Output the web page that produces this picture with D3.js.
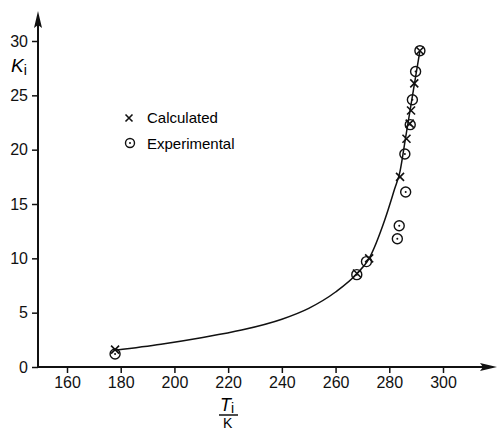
<!DOCTYPE html>
<html>
<head>
<meta charset="utf-8">
<script src="https://cdn.jsdelivr.net/npm/d3@7"></script>
<style>
  body { margin: 0; background: #fff; }
  svg { display: block; font-family: "Liberation Sans", Arial, sans-serif; }
  .tick text { font-size: 16px; fill: #111; }
</style>
</head>
<body>
<svg></svg>
<script>
const WIDTH = 499, HEIGHT = 432;

// values
const xTicks = [160, 180, 200, 220, 240, 260, 280, 300];
const yTicks = [0, 5, 10, 15, 20, 25, 30];
const calcT = [177.9, 268.0, 272.5, 284.0, 286.4, 287.6, 288.1, 289.3, 291.4];
const calcK = [1.6, 8.6, 10.0, 17.5, 21.0, 22.4, 23.6, 26.1, 29.1];
const expT = [177.9, 267.9, 271.5, 283.0, 283.7, 286.1, 285.8, 287.8, 288.6, 289.8, 291.4];
const expK = [1.2, 8.5, 9.7, 11.8, 13.0, 16.1, 19.6, 22.3, 24.6, 27.2, 29.1];
// fitted curve as drawn
const curveT = [178, 195, 210, 225, 240, 250, 260, 268, 272.5, 278.4, 282, 284, 286, 288, 291.4];
const curveK = [1.55, 2.1, 2.7, 3.4, 4.4, 5.4, 6.9, 8.6, 10.0, 13.6, 16.4, 18.0, 21.0, 24.0, 29.1];

const x = d3.scaleLinear().domain([160, 300]).range([67, 443]);
const y = d3.scaleLinear().domain([0, 30]).range([367, 41]);
const AXIS_X = 38, AXIS_Y = 367;

const svg = d3.select("svg").attr("width", WIDTH).attr("height", HEIGHT);

// axes
const xAxis = svg.append("g")
    .attr("transform", "translate(0," + AXIS_Y + ")")
    .call(d3.axisBottom(x).tickValues(xTicks).tickSize(6).tickPadding(4));
const yAxis = svg.append("g")
    .attr("transform", "translate(" + AXIS_X + ",0)")
    .call(d3.axisLeft(y).tickValues(yTicks).tickSize(6).tickPadding(4));
[xAxis, yAxis].forEach(function(g) {
    g.select(".domain").remove();
    g.selectAll(".tick line").attr("stroke", "#111").attr("stroke-width", 1.5);
});

svg.append("line").attr("x1", AXIS_X).attr("x2", 490).attr("y1", AXIS_Y).attr("y2", AXIS_Y)
    .attr("stroke", "#111").attr("stroke-width", 2);
svg.append("line").attr("x1", AXIS_X).attr("x2", AXIS_X).attr("y1", AXIS_Y).attr("y2", 20)
    .attr("stroke", "#111").attr("stroke-width", 2);
svg.append("path").attr("d", "M38,11 L34,28 L38,25 L42,28 Z").attr("fill", "#111");
svg.append("path").attr("d", "M497,367 L480,363 L483,367 L480,371 Z").attr("fill", "#111");

// curve
const line = d3.line().x(function(d) { return x(d[0]); }).y(function(d) { return y(d[1]); })
    .curve(d3.curveMonotoneX);
svg.append("path")
    .datum(d3.zip(curveT, curveK))
    .attr("d", line)
    .attr("fill", "none").attr("stroke", "#111").attr("stroke-width", 1.5);

function cross(g, cx, cy, s) {
    g.append("path")
        .attr("d", "M" + (cx - s) + "," + (cy - s) + "L" + (cx + s) + "," + (cy + s) +
                   "M" + (cx - s) + "," + (cy + s) + "L" + (cx + s) + "," + (cy - s))
        .attr("stroke", "#111").attr("stroke-width", 1.6).attr("fill", "none");
}
function dotCircle(g, cx, cy, r) {
    g.append("circle").attr("cx", cx).attr("cy", cy).attr("r", r)
        .attr("fill", "none").attr("stroke", "#111").attr("stroke-width", 1.4);
    g.append("circle").attr("cx", cx).attr("cy", cy).attr("r", 1).attr("fill", "#111");
}

const marks = svg.append("g");
d3.zip(expT, expK).forEach(function(d) { dotCircle(marks, x(d[0]), y(d[1]), 5); });
d3.zip(calcT, calcK).forEach(function(d) { cross(marks, x(d[0]), y(d[1]), 4); });

// legend
cross(svg, 129, 118, 3.5);
dotCircle(svg, 130, 143, 4.5);
svg.append("text").attr("x", 147).attr("y", 123).attr("font-size", 15).text("Calculated");
svg.append("text").attr("x", 147).attr("y", 149).attr("font-size", 15).text("Experimental");

// axis titles
const yl = svg.append("text").attr("x", 11).attr("y", 72).attr("font-size", 19);
yl.append("tspan").attr("font-style", "italic").text("K");
yl.append("tspan").attr("font-size", 14).attr("dy", 3).text("i");

const xl = svg.append("text").attr("x", 220).attr("y", 411).attr("font-size", 18);
xl.append("tspan").attr("font-style", "italic").text("T");
xl.append("tspan").attr("font-size", 14).attr("dy", 2).text("i");
svg.append("line").attr("x1", 219).attr("x2", 238).attr("y1", 415).attr("y2", 415)
    .attr("stroke", "#111").attr("stroke-width", 1.5);
svg.append("text").attr("x", 223).attr("y", 428).attr("font-size", 14).text("K");
</script>
</body>
</html>
